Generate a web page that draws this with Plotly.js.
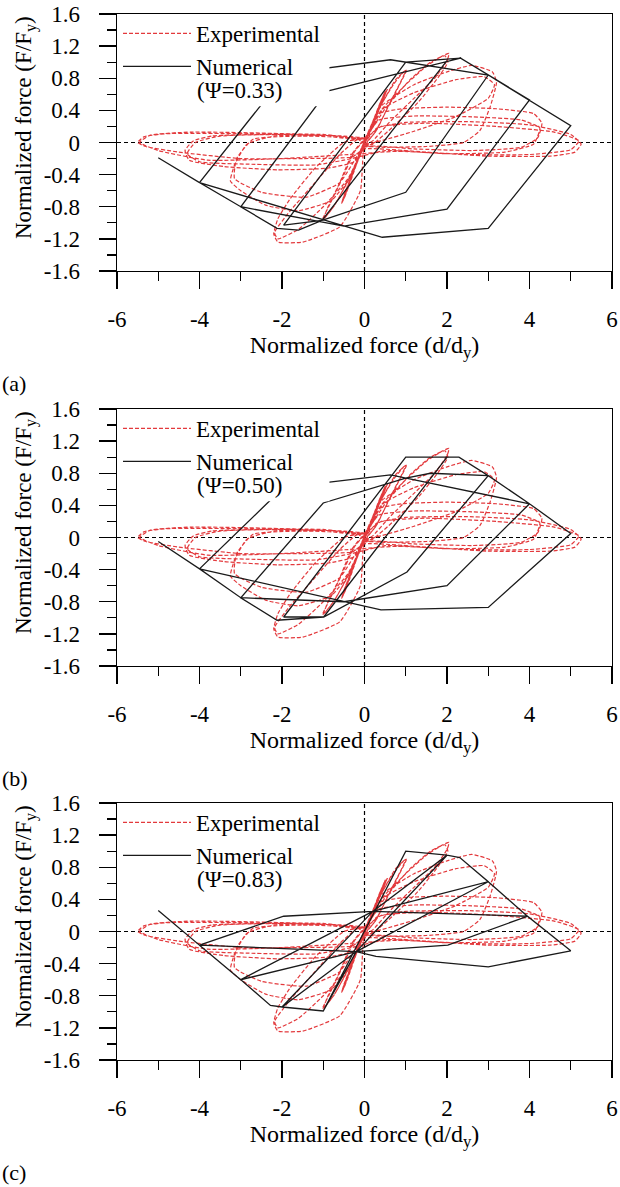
<!DOCTYPE html>
<html>
<head>
<meta charset="utf-8">
<script src="https://cdn.plot.ly/plotly-3.0.1.min.js"></script>
<style>html,body{margin:0;padding:0;background:#fff;}</style>
</head>
<body>
<div id="chart" style="width:620px;height:1187px;"></div>
<script>
// ---------- tick labels / texts ----------
const xTickVals = [-6, -4, -2, 0, 2, 4, 6];
const xTickText = ['-6', '-4', '-2', '0', '2', '4', '6'];
const yTickVals = [-1.6, -1.2, -0.8, -0.4, 0, 0.4, 0.8, 1.2, 1.6];
const yTickText = ['-1.6', '-1.2', '-0.8', '-0.4', '0', '0.4', '0.8', '1.2', '1.6'];
const panelLabels = ['(a)', '(b)', '(c)'];
const psiLabels = ['(\u03A8=0.33)', '(\u03A8=0.50)', '(\u03A8=0.83)'];
const seriesNames = ['Experimental', 'Numerical'];
const xTitle = 'Normalized force (d/d<sub>y</sub>)';
const yTitle = 'Normalized force (F/F<sub>y</sub>)';

// ---------- experimental hysteresis (same test in all panels) ----------
const expSmallX = [0, 0.25, 0.45, 0.5, 0.38, 0.12, 0, -0.2, -0.42, -0.52, -0.4, -0.12, 0,
  0.22, 0.42, 0.55, 0.44, 0.1, -0.05, -0.28, -0.5, -0.56, -0.45, -0.1, 0.02,
  0.2, 0.4, 0.48, 0.35, 0.05, -0.25, -0.48, -0.5, -0.35, -0.05, 0,
  0.3, 0.5, 0.4, 0.0, -0.3, -0.55, -0.42, 0,
  0.28, 0.46, 0.52, 0.3, -0.02, -0.32, -0.5, -0.53, -0.3, 0.02,
  0.35, 0.5, 0.42, 0.06, -0.36, -0.54, -0.46, -0.04];
const expSmallY = [0, 0.3, 0.56, 0.62, 0.46, 0.12, 0.02, -0.28, -0.6, -0.72, -0.56, -0.14, -0.02,
  0.24, 0.5, 0.66, 0.52, 0.08, -0.06, -0.38, -0.7, -0.76, -0.62, -0.1, 0.03,
  0.26, 0.52, 0.6, 0.42, 0.04, -0.34, -0.68, -0.7, -0.48, -0.04, 0,
  0.38, 0.64, 0.5, 0.02, -0.4, -0.74, -0.58, 0,
  0.34, 0.58, 0.64, 0.36, 0.0, -0.42, -0.66, -0.72, -0.4, 0.02,
  0.44, 0.62, 0.54, 0.06, -0.48, -0.74, -0.64, -0.04];
const exp1X = [0, 0.35, 0.7, 0.95, 1.02, 0.85, 0.55, 0.25, 0, -0.35, -0.7, -0.95, -1.02, -0.85, -0.55, -0.25, 0,
  0.4, 0.75, 1.0, 0.9, 0.6, 0.3, 0.02, -0.4, -0.75, -1.0, -0.9, -0.6, -0.3, 0];
const exp1Y = [0, 0.42, 0.72, 0.88, 0.9, 0.72, 0.42, 0.12, -0.03, -0.42, -0.76, -0.93, -0.96, -0.78, -0.46, -0.12, 0.04,
  0.46, 0.78, 0.9, 0.78, 0.48, 0.16, -0.03, -0.48, -0.8, -0.96, -0.82, -0.5, -0.14, 0.04];
const exp2X = [0, 0.4, 1.0, 1.5, 1.9, 2.05, 2.0, 1.7, 1.2, 0.6, 0.2, 0,
  -0.4, -1.0, -1.6, -2.1, -2.18, -1.8, -1.2, -0.6, -0.2, 0,
  0.5, 1.1, 1.6, 1.95, 2.02, 1.8, 1.3, 0.7, 0.2, 0,
  -0.1, -0.6, -1.5, -2.1, -2.2, -2.1, -1.8, -1.2, -0.5, 0];
const exp2Y = [0, 0.4, 0.72, 0.95, 1.08, 1.11, 1.02, 0.8, 0.55, 0.25, 0.02, -0.04,
  -0.45, -0.8, -1.08, -1.2, -1.12, -0.85, -0.5, -0.15, 0.03, 0.05,
  0.42, 0.78, 1.0, 1.08, 1.0, 0.82, 0.5, 0.2, -0.02, -0.05,
  -0.6, -1.05, -1.24, -1.24, -1.14, -0.95, -0.7, -0.32, 0.0, 0.05];
const exp3X = [0, 0.4, 1.2, 2.0, 2.6, 3.1, 3.2, 3.05, 2.8, 2.4, 1.5, 0.5, 0,
  -0.3, -0.8, -1.6, -2.4, -3.0, -3.25, -3.15, -2.85, -2.2, -1.0, 0,
  0.45, 1.2, 2.2, 2.9, 3.15, 3.0, 2.2, 1.2, 0.4, 0,
  -0.6, -1.4, -2.5, -3.15, -3.1, -2.7, -1.5, -0.2];
const exp3Y = [0, 0.45, 0.72, 0.88, 0.96, 0.88, 0.75, 0.45, 0.15, 0.0, -0.05, -0.06, -0.06,
  -0.4, -0.72, -0.85, -0.78, -0.6, -0.48, -0.28, -0.02, 0.08, 0.08, 0.05,
  0.42, 0.62, 0.78, 0.82, 0.72, 0.55, 0.32, 0.14, 0.02, -0.04,
  -0.5, -0.68, -0.62, -0.45, -0.2, 0.04, 0.08, 0.05];
const exp4X = [0, 0.3, 0.9, 2.0, 3.2, 4.1, 4.3, 4.2, 3.8, 2.6, 1.2, 0,
  -0.25, -0.9, -2.1, -3.4, -4.25, -4.35, -4.15, -3.7, -2.4, -1.0, 0,
  0.35, 1.2, 2.6, 3.8, 4.25, 4.1, 3.4, 2.0, 0.5,
  -0.3, -1.2, -2.8, -4.0, -4.3, -4.1, -3.5, -2.0, -0.5, 0];
const exp4Y = [0, 0.35, 0.42, 0.44, 0.42, 0.36, 0.24, 0.06, -0.06, -0.1, -0.08, -0.05,
  -0.24, -0.32, -0.34, -0.3, -0.22, -0.1, 0.02, 0.08, 0.1, 0.09, 0.06,
  0.28, 0.33, 0.32, 0.28, 0.18, -0.02, -0.12, -0.14, -0.1,
  -0.2, -0.28, -0.27, -0.24, -0.14, 0.0, 0.08, 0.1, 0.08, 0.05];
const exp5X = [0, 0.3, 1.0, 2.5, 4.0, 5.0, 5.25, 5.1, 4.5, 3.0, 1.5, 0,
  -0.3, -1.5, -3.0, -4.5, -5.3, -5.5, -5.35, -4.8, -3.0, -1.0, 0,
  0.4, 1.5, 3.2, 4.6, 5.2, 5.0, 4.0, 2.5, 0.8,
  -0.4, -2.0, -3.8, -5.0, -5.45, -5.2, -4.2, -2.0, 0];
const exp5Y = [0, 0.18, 0.25, 0.26, 0.22, 0.1, -0.02, -0.12, -0.17, -0.17, -0.12, -0.08,
  -0.18, -0.2, -0.2, -0.12, -0.05, 0.0, 0.07, 0.11, 0.11, 0.1, 0.05,
  0.2, 0.24, 0.2, 0.13, 0.02, -0.09, -0.15, -0.15, -0.11,
  -0.15, -0.2, -0.22, -0.1, 0.0, 0.09, 0.13, 0.11, 0.05];

// ---------- numerical paths, one per panel ----------
const numAX = [2, -1.03, -1.96, 1, 2.33, 3, 1, -1.03, -1.6, -2.12, -3, -0.9, 2.33, 4, 2, -0.5, -3, -4, -1.9, 0.63, 3, 5, 3, 0.43, -4, -5];
const numAY = [1.02, -0.97, -1.03, 1.0, 1.05, 0.84, -0.62, -0.97, -1.09, -1.07, -0.8, 0.64, 1.05, 0.53, -0.83, -1.04, -0.8, -0.5, 0.86, 1.03, 0.84, 0.21, -1.07, -1.18, -0.5, -0.19];
const numBX = [2, -0.99, -1.96, 1, 2.29, 3, 1.03, -0.99, -2.12, -3, -1.0, 1.0, 1.6, 3, 4, 2, -0.5, -3, -4, -1.97, 0.63, 4, 5, 3, 0.4, -4, -5];
const numBY = [1.0, -0.99, -0.99, 1.0, 1.0, 0.77, -0.43, -0.99, -1.03, -0.75, 0.43, 0.74, 0.8, 0.77, 0.42, -0.6, -0.8, -0.75, -0.39, 0.62, 0.78, 0.42, 0.05, -0.87, -0.9, -0.39, -0.05];
const numCX = [-1, 1, 2, -0.2, -1, -2, 0.2, 2, 2.31, 3, -0.2, -2, -2.28, -3, 0.2, 3, 3.95, 2.02, -0.2, -3, -4, -1.96, 0.2, 3.95, 5, 3, 0.28, -0.2, -4, -5];
const numCY = [-0.99, 1.0, 0.95, -0.25, -0.99, -0.94, 0.25, 0.95, 0.92, 0.62, -0.25, -0.94, -0.92, -0.6, 0.25, 0.62, 0.19, -0.17, -0.25, -0.6, -0.17, 0.19, 0.25, 0.19, -0.24, -0.44, -0.31, -0.25, -0.17, 0.26];

// ---------- build ----------
const expX = [].concat(expSmallX, exp1X, exp2X, exp3X, exp4X, exp5X);
const expY = [].concat(expSmallY, exp1Y, exp2Y, exp3Y, exp4Y, exp5Y);
const numX = [numAX, numBX, numCX];
const numY = [numAY, numBY, numCY];

const FONT = '"Liberation Serif", "Times New Roman", Times, serif';
const W = 620, H = 1187;
const plotLeft = 117, plotRight = 612;
const panelTops = [14, 409, 803];
const panelH = 257;
const tickFont = {family: FONT, size: 23, color: '#000'};
const labelFont = {family: FONT, size: 22, color: '#000'};
const xTitleFont = {family: FONT, size: 24, color: '#000'};
const yTitleFont = {family: FONT, size: 23, color: '#000'};
const legendFont = {family: FONT, size: 23, color: '#000'};
const expColor = '#e3393c';

const data = [];
const layout = {
  width: W, height: H,
  margin: {l: 0, r: 0, t: 0, b: 0},
  paper_bgcolor: '#fff', plot_bgcolor: '#fff',
  font: tickFont,
  showlegend: true,
  shapes: [], annotations: []
};

for (let i = 0; i < 3; i++) {
  const s = i === 0 ? '' : String(i + 1);
  const xa = 'x' + s, ya = 'y' + s, lg = 'legend' + s;
  const top = panelTops[i], bot = top + panelH;
  const dom = [1 - bot / H, 1 - top / H];

  data.push({
    x: expX, y: expY, xaxis: xa, yaxis: ya, type: 'scatter', mode: 'lines',
    name: seriesNames[0], legend: lg,
    line: {color: expColor, width: 1.2, dash: '4px,2px', shape: 'spline', smoothing: 0.45},
    hoverinfo: 'skip'
  });
  data.push({
    x: numX[i], y: numY[i], xaxis: xa, yaxis: ya, type: 'scatter', mode: 'lines',
    name: seriesNames[1], legend: lg,
    line: {color: '#1a1a1a', width: 1.3},
    hoverinfo: 'skip'
  });

  const axCommon = {
    showline: true, linecolor: '#000', linewidth: 1.3, mirror: true,
    showgrid: false, zeroline: false,
    ticks: 'outside', ticklen: 17, tickwidth: 1.3, tickcolor: '#000',
    tickfont: tickFont,
    tickmode: 'array', fixedrange: true
  };
  layout['xaxis' + s] = Object.assign({}, axCommon, {
    domain: [plotLeft / W, plotRight / W], anchor: ya, range: [-6, 6],
    tickvals: xTickVals, ticktext: xTickText, ticklabelstandoff: 10,
    minor: {ticks: 'outside', ticklen: 9, tickwidth: 1.3, tickcolor: '#000', dtick: 1, tick0: 0},
    title: {text: xTitle, font: xTitleFont, standoff: 3}
  });
  layout['yaxis' + s] = Object.assign({}, axCommon, {
    domain: dom, anchor: xa, range: [-1.6, 1.6],
    tickvals: yTickVals, ticktext: yTickText, ticklabelstandoff: 14,
    minor: {ticks: 'outside', ticklen: 9, tickwidth: 1.3, tickcolor: '#000', dtick: 0.2, tick0: 0}
  });

  layout[lg] = {
    x: (plotLeft + 1) / W, y: 1 - (top - 2) / H, xanchor: 'left', yanchor: 'top',
    bgcolor: 'rgba(0,0,0,0)', borderwidth: 0, itemwidth: 68,
    font: legendFont, tracegroupgap: 0
  };

  layout.shapes.push(
    {type: 'line', xref: xa, yref: ya, x0: -6, x1: 6, y0: 0, y1: 0, layer: 'below',
     line: {color: '#000', width: 1.2, dash: '4px,3px'}},
    {type: 'line', xref: xa, yref: ya, x0: 0, x1: 0, y0: -1.6, y1: 1.6, layer: 'below',
     line: {color: '#000', width: 1.2, dash: '4px,3px'}},
    {type: 'rect', xref: xa, yref: ya, x0: -5.96, x1: -0.85, y0: 0.45, y1: 1.58, layer: 'above',
     fillcolor: '#fff', line: {width: 0}}
  );

  layout.annotations.push(
    {xref: 'paper', yref: 'paper', x: 25 / W, y: 1 - (top + 114) / H, xanchor: 'center', yanchor: 'middle',
     text: yTitle, textangle: -90, showarrow: false, font: yTitleFont},
    {xref: 'paper', yref: 'paper', x: 195 / W, y: 1 - (top + 76) / H, xanchor: 'left', yanchor: 'middle',
     text: psiLabels[i], showarrow: false, font: legendFont},
    {xref: 'paper', yref: 'paper', x: 0, y: 1 - (top + 369) / H, xanchor: 'left', yanchor: 'middle',
     text: panelLabels[i], showarrow: false, font: labelFont}
  );
}

Plotly.newPlot('chart', data, layout, {staticPlot: true, displayModeBar: false});
</script>
</body>
</html>
